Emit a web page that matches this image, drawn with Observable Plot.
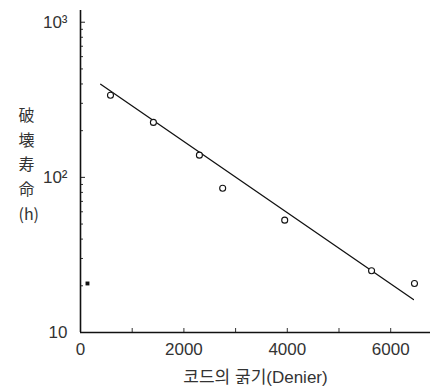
<!DOCTYPE html>
<html>
<head>
<meta charset="utf-8">
<script src="https://cdn.jsdelivr.net/npm/d3@7"></script>
<script src="https://cdn.jsdelivr.net/npm/@observablehq/plot@0.6"></script>
<style>
  html, body { margin: 0; padding: 0; background: #fff; }
  svg { display: block; }
</style>
</head>
<body>
<div id="chart"></div>
<script>
// Observed points: cord thickness (Denier) vs failure life (h)
const denier = [580, 1410, 2300, 2750, 3950, 5630, 6460];
const lifeHours = [338, 226, 139, 85, 53, 25, 20.7];
// Stray filled point near the axis
const strayDenier = [135];
const strayLife = [20.7];
// Fitted straight line (on log scale)
const fitDenier = [390, 6440];
const fitLife = [398, 16.3];
// Tick labels
const xTicks = [0, 2000, 4000, 6000];
const xMinor = [1000, 2000, 3000, 4000, 5000, 6000];
const yTicks = [10, 100, 1000];
const yTickLabels = ["10", "10²", "10³"];
const yMinor = [20, 30, 40, 50, 60, 70, 80, 90, 200, 300, 400, 500, 600, 700, 800, 900];

const pts = denier.map((d, i) => ({x: d, y: lifeHours[i]}));
const stray = strayDenier.map((d, i) => ({x: d, y: strayLife[i]}));
const fit = fitDenier.map((d, i) => ({x: d, y: fitLife[i]}));

const font = "'Liberation Sans', Arial, 'Noto Sans CJK KR', sans-serif";

const plot = Plot.plot({
  width: 430,
  height: 390,
  marginLeft: 80,
  marginRight: 0,
  marginTop: 10,
  marginBottom: 58,
  style: {fontFamily: font, fontSize: "16px", color: "#222", background: "#fff"},
  x: {domain: [0, 6770]},
  y: {type: "log", domain: [10, 1190]},
  marks: [
    Plot.axisX({ticks: xMinor, tickSize: -4, tickFormat: () => "", label: null, stroke: "#333"}),
    Plot.axisX({ticks: xTicks, tickSize: 0, tickPadding: 10, fontSize: 17, fill: "#333",
      tickFormat: d => String(d),
      label: "코드의 굵기(Denier)", labelAnchor: "center", labelArrow: "none", labelOffset: 50}),
    Plot.axisY({ticks: yMinor, tickSize: -3, tickFormat: () => "", label: null, stroke: "#333"}),
    Plot.axisY({ticks: yTicks, tickSize: -5, tickPadding: 18, fontSize: 17, fill: "#333",
      tickFormat: d => yTickLabels[yTicks.indexOf(d)], label: null}),
    Plot.text(["破\n壊\n寿\n命\n(h)"], {
      frameAnchor: "left", dx: -62, dy: -9, lineHeight: 1.55, fontSize: 16,
      fill: "#333", fontFamily: "'Noto Sans CJK JP', sans-serif"
    }),
    Plot.ruleX([0], {stroke: "#111", strokeWidth: 1.6}),
    Plot.ruleY([10], {stroke: "#111", strokeWidth: 1.6}),
    Plot.line(fit, {x: "x", y: "y", stroke: "#111", strokeWidth: 1.3}),
    Plot.dot(pts, {x: "x", y: "y", r: 3, stroke: "#111", strokeWidth: 1.1, fill: "#fff"}),
    Plot.dot(stray, {x: "x", y: "y", r: 2.2, fill: "#111", symbol: "square"})
  ]
});
document.getElementById("chart").appendChild(plot);
</script>
</body>
</html>
